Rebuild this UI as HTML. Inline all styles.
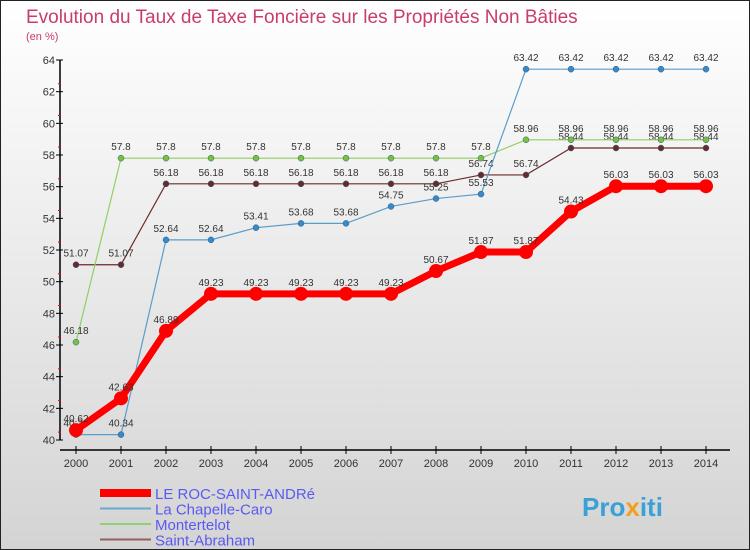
<!DOCTYPE html>
<html><head><meta charset="utf-8"><style>
body{margin:0}
svg{display:block;font-family:"Liberation Sans",sans-serif}
</style></head><body>
<svg id="c" width="750" height="550">
<defs><linearGradient id="bg" x1="0" y1="0" x2="0" y2="1"><stop offset="0" stop-color="#ffffff"/><stop offset="1" stop-color="#d4d4d4"/></linearGradient></defs>
<rect x="0.5" y="0.5" width="749" height="549" fill="url(#bg)" stroke="#222"/>
<text x="26" y="23" font-size="19" fill="#c83c6e">Evolution du Taux de Taxe Foncière sur les Propriétés Non Bâties</text>
<text x="26" y="40" font-size="11" fill="#c83c6e">(en %)</text>
<g id="axes"></g><g id="series"></g><g id="legend"></g>
<text x="582" y="516" font-size="26" font-weight="bold" fill="#3aa0d8">Pro<tspan fill="#f0a020">x</tspan>iti</text>
</svg>
<script>
const years=[2000,2001,2002,2003,2004,2005,2006,2007,2008,2009,2010,2011,2012,2013,2014];
const yTicks=[40,42,44,46,48,50,52,54,56,58,60,62,64];
const seriesNames=["LE ROC-SAINT-ANDRé","La Chapelle-Caro","Montertelot","Saint-Abraham"];
const rocValues=[40.62,42.63,46.89,49.23,49.23,49.23,49.23,49.23,50.67,51.87,51.87,54.43,56.03,56.03,56.03];
const chapelleValues=[40.34,40.34,52.64,52.64,53.41,53.68,53.68,54.75,55.25,55.53,63.42,63.42,63.42,63.42,63.42];
const montertelotValues=[46.18,57.8,57.8,57.8,57.8,57.8,57.8,57.8,57.8,57.8,58.96,58.96,58.96,58.96,58.96];
const abrahamValues=[51.07,51.07,56.18,56.18,56.18,56.18,56.18,56.18,56.18,56.74,56.74,58.44,58.44,58.44,58.44];
const NS="http://www.w3.org/2000/svg";
const X=i=>76+i*45, Y=v=>440-(v-40)*380/24;
function mk(tag,attrs,parent,txt){const e=document.createElementNS(NS,tag);for(const k in attrs)e.setAttribute(k,attrs[k]);if(txt!==undefined)e.textContent=txt;parent.appendChild(e);return e;}
const ax=document.getElementById('axes');
let l=mk('line',{x1:60,y1:60,x2:60,y2:440,stroke:'#000','stroke-width':1.5},ax);


l=mk('line',{x1:60,y1:450,x2:730,y2:450,stroke:'#000','stroke-width':1.5},ax);


yTicks.forEach((t,i)=>{const y=Y(t);mk('line',{x1:56,y1:y,x2:63,y2:y,stroke:'#000'},ax);
if(i<yTicks.length-1)mk('line',{x1:58,y1:y-7.9,x2:61,y2:y-7.9,stroke:'#e00'},ax);
const tx=mk('text',{x:55,y:y+4,'font-size':11,'text-anchor':'end',fill:'#333'},ax,t);

});
years.forEach((yr,i)=>{mk('line',{x1:X(i),y1:446,x2:X(i),y2:454,stroke:'#000'},ax);
const tx=mk('text',{x:X(i),y:467,'font-size':11,'text-anchor':'middle',fill:'#333'},ax,yr);

});
const sg=document.getElementById('series');
const defs=[[abrahamValues,'#6b2a2a','#6b2a2a',1.2,3,'saint-abraham'],[montertelotValues,'#8fd060','#7ac040',1.2,3,'montertelot'],[chapelleValues,'#5a9ccc','#3a88c8',1.2,3,'la-chapelle-caro'],[rocValues,'#f00','#f00',7,7,'le-roc-saint-andre']];
defs.forEach(([vals,lc,pc,w,r,name])=>{
const g=mk('g',{},sg);


const p=mk('polyline',{points:vals.map((v,i)=>X(i)+','+Y(v)).join(' '),fill:'none',stroke:lc,'stroke-width':w},g);


vals.forEach((v,i)=>{const c=mk('circle',{cx:X(i),cy:Y(v),r:r,fill:pc,stroke:r>5?'none':'#2a5f80','stroke-width':0.5},g);


const t=mk('text',{x:X(i),y:Y(v)-8,'font-size':10,'text-anchor':'middle',fill:'#333'},g,v);

});});
const lg=document.getElementById('legend');
const lcol=['#f00','#6aa8d0','#90d070','#946060'],lw=[8,2,2,2];
seriesNames.forEach((n,i)=>{const y=493+i*15.5;
const g=mk('g',{},lg);


mk('line',{x1:100,y1:y,x2:151,y2:y,stroke:lcol[i],'stroke-width':lw[i]},g);
mk('text',{x:155,y:y+6,'font-size':15,fill:'#5a5af0'},g,n);});
</script>
</body></html>
